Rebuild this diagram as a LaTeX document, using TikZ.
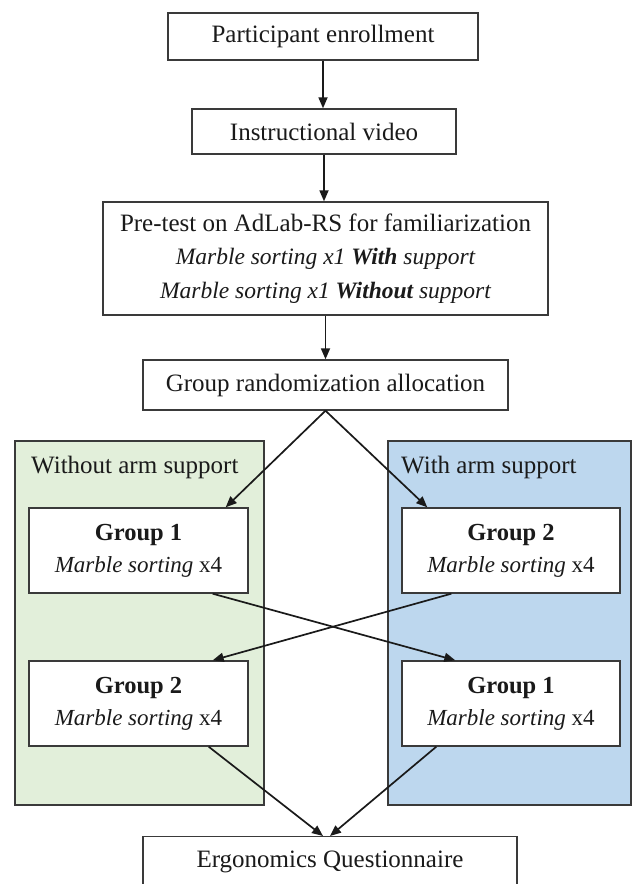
\documentclass[tikz,border=0pt]{standalone}
\usepackage{fontspec}
\setmainfont{Liberation Serif}
\usetikzlibrary{arrows.meta,calc}
\definecolor{panelgreen}{HTML}{E2EFDA}
\definecolor{panelblue}{HTML}{BDD7EE}
\definecolor{edge}{HTML}{3A3A3A}
\definecolor{ink}{HTML}{1A1A1A}
\newcommand\myit[1]{{\fontsize{23.5}{33.5}\selectfont\itshape #1}}
\newcommand\grpit[1]{{\fontsize{23}{32}\selectfont\itshape #1}}
\newcommand\grpbf[1]{{\fontsize{24.5}{32}\selectfont\bfseries #1}}
\tikzset{
  box/.style={draw=edge, line width=1.4pt, fill=white, inner sep=0pt, align=center, text=ink,
    font=\fontsize{25}{33.5}\selectfont},
  grp/.style={box, minimum width=219pt, minimum height=85pt, font=\fontsize{23}{32}\selectfont},
  panel/.style={draw=edge, line width=1.5pt, inner sep=0pt},
  arr/.style={-{Triangle[length=11pt,width=9pt]}, line width=1.7pt, draw=ink},
  lbl/.style={anchor=west, inner sep=0pt, text=ink, font=\fontsize{25}{28}\selectfont}
}
\begin{document}
\begin{tikzpicture}[x=1pt,y=-1pt]
\useasboundingbox (0,0) rectangle (632,884);
\clip (0,0) rectangle (632,884);
\fill[white] (0,0) rectangle (632,884);
% panels
\node[panel, fill=panelgreen, minimum width=249pt, minimum height=364pt] (pg) at (139.5,623) {};
\node[panel, fill=panelblue, minimum width=243pt, minimum height=364pt] (pb) at (509.5,623) {};
\node[lbl] (lg) at (31,467) {Without arm support};
\node[lbl] (lb) at (401,467) {With arm support};
% main chain
\node[box, minimum width=310pt, minimum height=47pt] (p1) at (323,36.5) {Participant enrollment};
\node[box, minimum width=264pt, minimum height=45pt] (p2) at (324,131.5) {Instructional video};
\node[box, minimum width=445pt, minimum height=113pt] (p3) at (325.5,258.5)
  {Pre-test on AdLab-RS for familiarization\\
   \myit{Marble sorting x1 \textbf{With} support}\\
   \myit{Marble sorting x1 \textbf{Without} support}};
\node[box, minimum width=365pt, minimum height=50pt] (p4) at (325.5,385) {Group randomization allocation};
% groups
\node[grp] (g1a) at (138.5,550.5) {\grpbf{Group 1}\\\grpit{Marble sorting} x4};
\node[grp, minimum width=218pt] (g2a) at (511,550.5) {\grpbf{Group 2}\\\grpit{Marble sorting} x4};
\node[grp] (g2b) at (138.5,703.5) {\grpbf{Group 2}\\\grpit{Marble sorting} x4};
\node[grp, minimum width=218pt] (g1b) at (511,703.5) {\grpbf{Group 1}\\\grpit{Marble sorting} x4};
% final
\node[box, minimum width=374pt, minimum height=80pt, anchor=north] (q) at (330,836) {};
\node[inner sep=0pt, text=ink, font=\fontsize{25}{28}\selectfont] (qt) at (330,862) {Ergonomics Questionnaire};
% connectors
\draw[arr] (p1.south) -- (p1.south |- p2.north);
\draw[arr] (p2.south) -- (p2.south |- p3.north);
\draw[arr] (p3.south) -- (p3.south |- p4.north);
\draw[arr] (p4.south) -- ($(g1a.north east)+(-23,0)$);
\draw[arr] (p4.south) -- ($(g2a.north west)+(26,0)$);
\draw[arr] ($(g1a.south east)+(-36,0)$) -- ($(g1b.north west)+(54,0)$);
\draw[arr] ($(g2a.south west)+(50,0)$) -- ($(g2b.north east)+(-36,0)$);
\draw[arr] ($(g2b.south east)+(-40,0)$) -- ($(q.north)+(-7,0)$);
\draw[arr] ($(g1b.south west)+(35,0)$) -- ($(q.north)+(0,0)$);
\end{tikzpicture}
\end{document}
